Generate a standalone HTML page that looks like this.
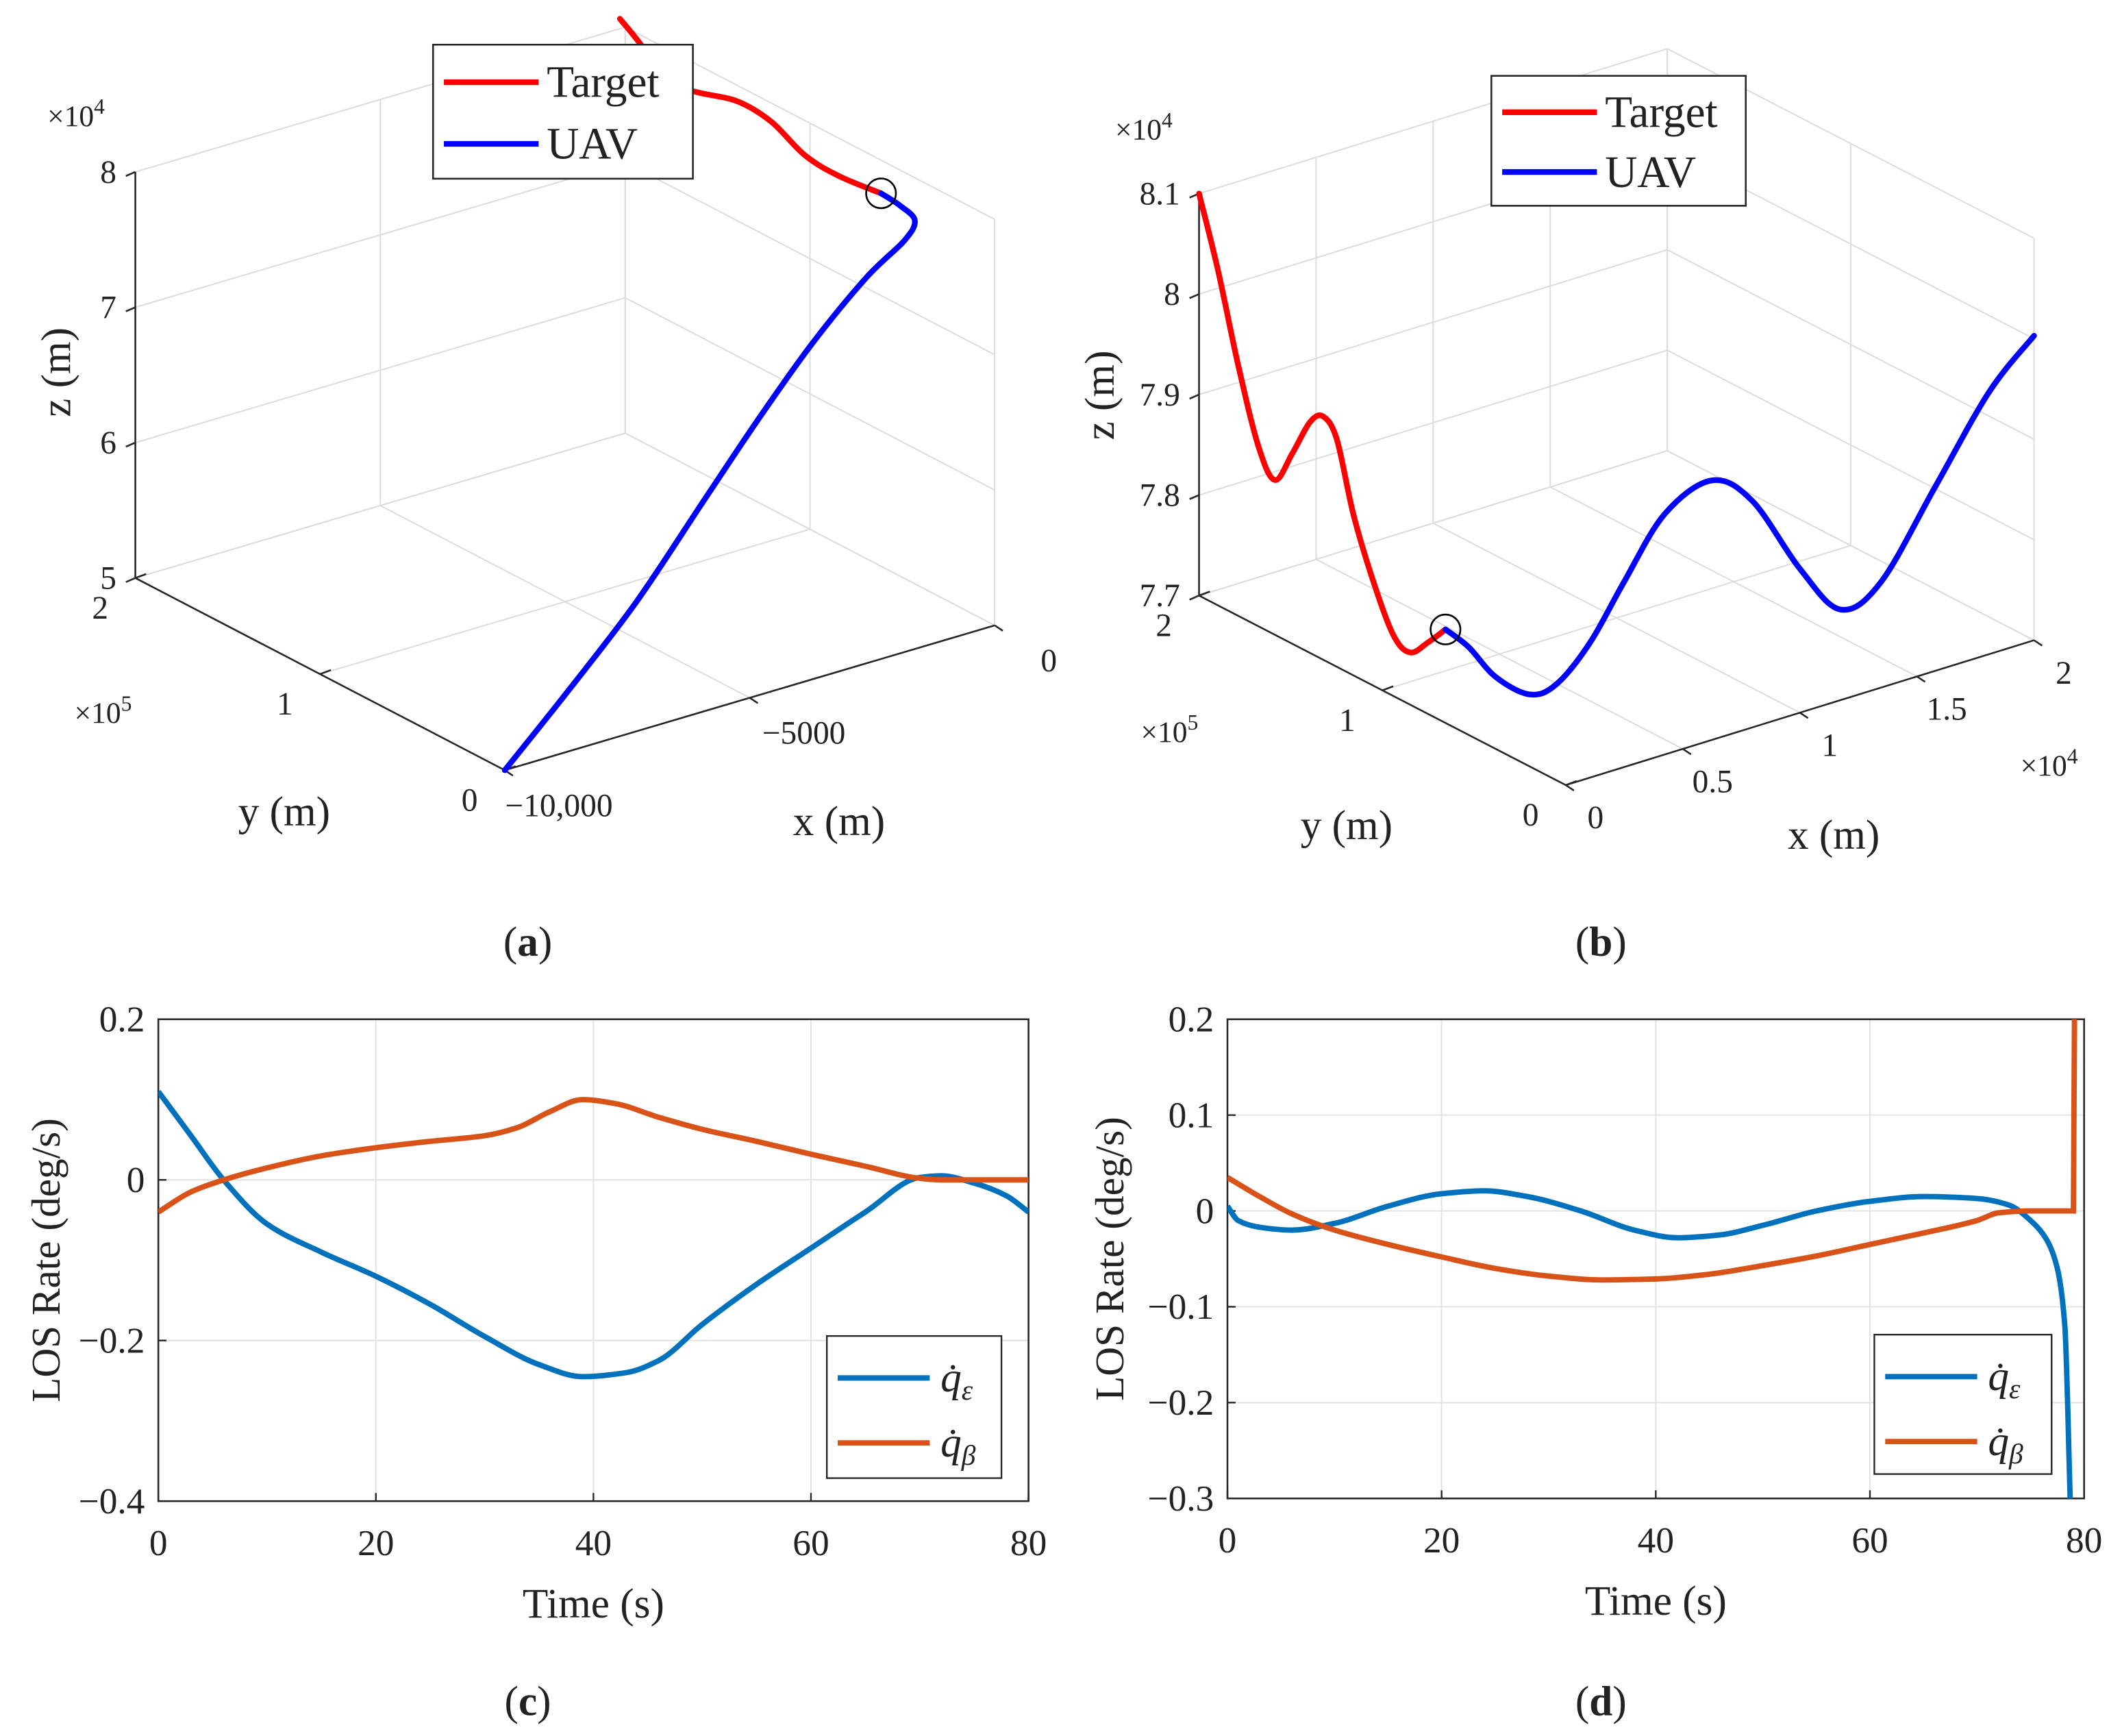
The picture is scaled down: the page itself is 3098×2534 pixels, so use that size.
<!DOCTYPE html>
<html><head><meta charset="utf-8"><style>
html,body{margin:0;padding:0;background:#fff;}
svg{display:block;font-family:"Liberation Serif",serif;}
text{font-family:"Liberation Serif",serif;fill:#222;}
</style></head>
<body>
<svg id="fig" xmlns="http://www.w3.org/2000/svg" width="3098" height="2534" viewBox="0 0 1568 1282.5" font-family="Liberation Serif, serif">
<g id="pa"></g>
<g id="pb"></g>
<g id="pc"></g>
<g id="pd"></g>
<text x="390" y="706" font-size="31" text-anchor="middle">(<tspan font-weight="bold">a</tspan>)</text>
<text x="1183" y="706" font-size="31" text-anchor="middle">(<tspan font-weight="bold">b</tspan>)</text>
<text x="390" y="1267" font-size="31" text-anchor="middle">(<tspan font-weight="bold">c</tspan>)</text>
<text x="1183" y="1267" font-size="31" text-anchor="middle">(<tspan font-weight="bold">d</tspan>)</text>
</svg>
<script>
// ---------- Panel (a) data ----------
const aUavX = [-10000,-8700,-7320,-5940,-4830,-3730,-2620,-1850,-1630,-1930,-2320];
const aUavY = [0,0,0,0,0,0,0,0,0,0,0];
const aUavZ = [50000,54500,59540,65560,70370,74790,78500,80380,81650,83070,84400];
const aTgtX = [-2320,-3180,-3870,-4560,-5250,-6080,-6770,-7180,-7650];
const aTgtY = [0,0,0,0,0,0,0,0,0];
const aTgtZ = [84400,86600,88860,92090,94330,95900,97450,100370,103000];
const aXTicks = [-10000,-5000,0];
const aXTickLabels = ["\u221210,000","\u22125000","0"];
const aYTicks = [0,100000,200000];
const aYTickLabels = ["0","1","2"];
const aZTicks = [50000,60000,70000,80000];
const aZTickLabels = ["5","6","7","8"];
// ---------- Panel (b) data ----------
const bTgtX = [0,0,0,0,0,0,0,0,0,0,0,0,0,0,0];
const bTgtY = [200000,189600,178600,167600,158600,149000,139400,132200,124800,115800,104800,93800,84800,75200,65600];
const bTgtZ = [81000,80330,79490,78790,78540,78900,79300,79420,79260,78600,78030,77600,77520,77710,77930];
const bUavX = [0,700,1540,2680,3520,4640,5780,7200,8900,10320,11880,13300,14560,16560,18400,20000];
const bUavY = [65600,62000,58000,54000,50000,46000,42000,38000,34000,30000,24000,20000,14000,10000,4000,0];
const bUavZ = [77930,77740,77420,77200,77280,77650,78210,78820,79070,78800,78070,77600,77840,78680,79550,80030];
const bXTicks = [0,5000,10000,15000,20000];
const bXTickLabels = ["0","0.5","1","1.5","2"];
const bYTicks = [0,100000,200000];
const bYTickLabels = ["0","1","2"];
const bZTicks = [77000,78000,79000,80000,81000];
const bZTickLabels = ["7.7","7.8","7.9","8","8.1"];
// ---------- Panel (c) data ----------
const cT = [0,3,6,10,15,20,25,30,35,39,43,46,50,55,60,65,70,72,75,78,80];
const cQe = [0.11,0.055,0,-0.055,-0.09,-0.12,-0.155,-0.195,-0.23,-0.245,-0.24,-0.225,-0.18,-0.13,-0.085,-0.04,0.003,0.005,-0.004,-0.02,-0.04];
const cTb = [0,3,6,10,15,20,25,30,33,36,39,42,46,50,55,60,65,70,72,76,80];
const cQb = [-0.04,-0.015,0,0.015,0.03,0.04,0.048,0.055,0.065,0.085,0.1,0.095,0.078,0.063,0.048,0.032,0.017,0.002,0,0,0];
const cXTicks = [0,20,40,60,80];
const cYTicks = [-0.4,-0.2,0,0.2];
const cYTickLabels = ["\u22120.4","\u22120.2","0","0.2"];
// ---------- Panel (d) data ----------
const dT = [0,1,3,6,10,15,20,24,28,33,38,42,46,50,55,60,65,70,73,75,76.5,77.5,78.2,78.7];
const dQe = [0.005,-0.01,-0.017,-0.02,-0.013,0.005,0.018,0.021,0.015,0,-0.02,-0.028,-0.025,-0.015,0,0.01,0.015,0.013,0.006,-0.01,-0.03,-0.06,-0.12,-0.3];
const dTb = [0,3,6,10,15,20,25,30,35,40,45,50,55,60,65,70,72,75,79,79.05,79.1];
const dQb = [0.035,0.015,-0.003,-0.02,-0.035,-0.048,-0.06,-0.068,-0.072,-0.071,-0.066,-0.057,-0.047,-0.035,-0.023,-0.01,-0.002,0,0,0.1,0.2];
const dXTicks = [0,20,40,60,80];
const dYTicks = [-0.3,-0.2,-0.1,0,0.1,0.2];
const dYTickLabels = ["\u22120.3","\u22120.2","\u22120.1","0","0.1","0.2"];

const NS = "http://www.w3.org/2000/svg";
function mk(parent, tag, attrs, txt){
  const e = document.createElementNS(NS, tag);
  for (const k in attrs) e.setAttribute(k, attrs[k]);
  if (tag === "text") e.setAttribute("font-family", "Liberation Serif, serif");
  if (txt !== undefined) e.textContent = txt;
  parent.appendChild(e);
  return e;
}
function smooth(pts){
  let d = "M" + pts[0][0].toFixed(2) + "," + pts[0][1].toFixed(2);
  for (let i = 0; i < pts.length - 1; i++){
    const p0 = pts[Math.max(0,i-1)], p1 = pts[i], p2 = pts[i+1], p3 = pts[Math.min(pts.length-1,i+2)];
    const c1x = p1[0] + (p2[0]-p0[0])/6, c1y = p1[1] + (p2[1]-p0[1])/6;
    const c2x = p2[0] - (p3[0]-p1[0])/6, c2y = p2[1] - (p3[1]-p1[1])/6;
    d += " C" + c1x.toFixed(2)+","+c1y.toFixed(2)+" "+c2x.toFixed(2)+","+c2y.toFixed(2)+" "+p2[0].toFixed(2)+","+p2[1].toFixed(2);
  }
  return d;
}
// monotone cubic in x (Fritsch-Carlson), no overshoot
function monotone(pts){
  const n = pts.length, dx = [], m = [], s = [];
  for (let i = 0; i < n-1; i++){ dx[i] = pts[i+1][0]-pts[i][0]; s[i] = (pts[i+1][1]-pts[i][1])/dx[i]; }
  m[0] = s[0]; m[n-1] = s[n-2];
  for (let i = 1; i < n-1; i++){
    if (s[i-1]*s[i] <= 0) m[i] = 0;
    else { const w1 = 2*dx[i]+dx[i-1], w2 = dx[i]+2*dx[i-1]; m[i] = (w1+w2)/(w1/s[i-1]+w2/s[i]); }
  }
  let d = "M" + pts[0][0].toFixed(2) + "," + pts[0][1].toFixed(2);
  for (let i = 0; i < n-1; i++){
    const h = dx[i]/3;
    d += " C" + (pts[i][0]+h).toFixed(2)+","+(pts[i][1]+m[i]*h).toFixed(2)+" "+(pts[i+1][0]-h).toFixed(2)+","+(pts[i+1][1]-m[i+1]*h).toFixed(2)+" "+pts[i+1][0].toFixed(2)+","+pts[i+1][1].toFixed(2);
  }
  return d;
}

// ---------- 3D panels ----------
function draw3D(g, cfg){
  const P = (x,y,z) => {
    const a = (x-cfg.x0)/(cfg.x1-cfg.x0), b = (y-cfg.y0)/(cfg.y1-cfg.y0), c = (z-cfg.z0)/(cfg.z1-cfg.z0);
    return [cfg.O[0] + a*cfg.ex[0] + b*cfg.ey[0] + c*cfg.ez[0], cfg.O[1] + a*cfg.ex[1] + b*cfg.ey[1] + c*cfg.ez[1]];
  };
  const line = (p, q, st, w, name) => {
    const l = mk(g, "line", {x1:p[0],y1:p[1],x2:q[0],y2:q[1],stroke:st,"stroke-width":w});
    
    
  };
  const gc = "#dcdcdc";
  cfg.xt.forEach(x => line(P(x,cfg.y0,cfg.z0), P(x,cfg.y1,cfg.z0), gc, 1, 'floor-grid-x'));
  cfg.yt.forEach(y => line(P(cfg.x0,y,cfg.z0), P(cfg.x1,y,cfg.z0), gc, 1, 'floor-grid-y'));
  cfg.zt.forEach(z => line(P(cfg.x0,cfg.y1,z), P(cfg.x1,cfg.y1,z), gc, 1, 'wall-grid-z'));
  cfg.xt.forEach(x => line(P(x,cfg.y1,cfg.z0), P(x,cfg.y1,cfg.z1), gc, 1, 'wall-grid-x'));
  cfg.zt.forEach(z => line(P(cfg.x1,cfg.y0,z), P(cfg.x1,cfg.y1,z), gc, 1, 'wall-grid-z'));
  cfg.yt.forEach(y => line(P(cfg.x1,y,cfg.z0), P(cfg.x1,y,cfg.z1), gc, 1, 'wall-grid-y'));
  const ac = "#262626";
  line(P(cfg.x0,cfg.y1,cfg.z0), P(cfg.x0,cfg.y1,cfg.z1), ac, 1.3, 'z-axis');
  line(P(cfg.x0,cfg.y0,cfg.z0), P(cfg.x0,cfg.y1,cfg.z0), ac, 1.3, 'y-axis');
  line(P(cfg.x0,cfg.y0,cfg.z0), P(cfg.x1,cfg.y0,cfg.z0), ac, 1.3, 'x-axis');
  cfg.zt.forEach((z,i) => {
    const p = P(cfg.x0,cfg.y1,z);
    line(p, [p[0]-7,p[1]+3], ac, 1.3, 'z-tick');
    const t = mk(g,"text",{x:p[0]-14,y:p[1]+8,"font-size":24,"text-anchor":"end"}, cfg.ztl[i]);
     
  });
  cfg.yt.forEach((y,i) => {
    const p = P(cfg.x0,y,cfg.z0);
    line(p, [p[0]+8,p[1]-3], ac, 1.3, 'y-tick');
    const t = mk(g,"text",{x:p[0]+cfg.yLabOff[0],y:p[1]+cfg.yLabOff[1],"font-size":24,"text-anchor":"middle"}, cfg.ytl[i]);
     
  });
  cfg.xt.forEach((x,i) => {
    const p = P(x,cfg.y0,cfg.z0);
    line(p, [p[0]+6,p[1]+4], ac, 1.3, 'x-tick');
    const t = mk(g,"text",{x:p[0]+cfg.xLabOff[0],y:p[1]+cfg.xLabOff[1],"font-size":24,"text-anchor":"middle"}, cfg.xtl[i]);
     
  });
  const tp = cfg.tx.map((x,i) => P(x, cfg.ty[i], cfg.tz[i]));
  const up = cfg.ux.map((x,i) => P(x, cfg.uy[i], cfg.uz[i]));
  const pt = mk(g,"path",{d:smooth(tp),fill:"none",stroke:"#ff0000","stroke-width":4.2,"stroke-linecap":"round"});
   
  const pu = mk(g,"path",{d:smooth(up),fill:"none",stroke:"#0000ff","stroke-width":4.2,"stroke-linecap":"round"});
   
  const c0 = cfg.circleAtEnd ? up[up.length-1] : up[0];
  const ci = mk(g,"circle",{cx:c0[0],cy:c0[1],r:11,fill:"none",stroke:"#000","stroke-width":1.3});
   
  const L = cfg.leg;
  const lg = mk(g,"g",{});
   
  mk(lg,"rect",{x:L[0],y:L[1],width:L[2],height:L[3],fill:"#fff",stroke:"#262626","stroke-width":1.3});
  const r1 = L[1]+L[3]*0.28, r2 = L[1]+L[3]*0.74;
  const l1 = mk(lg,"line",{x1:L[0]+8,y1:r1,x2:L[0]+78,y2:r1,stroke:"#ff0000","stroke-width":4.2});
   
  mk(lg,"text",{x:L[0]+84,y:r1+11,"font-size":33}, "Target");
  const l2 = mk(lg,"line",{x1:L[0]+8,y1:r2,x2:L[0]+78,y2:r2,stroke:"#0000ff","stroke-width":4.2});
   
  mk(lg,"text",{x:L[0]+84,y:r2+11,"font-size":33}, "UAV");
}

draw3D(document.getElementById("pa"), {
  x0:-10000,x1:0,y0:0,y1:200000,z0:50000,z1:80000,
  O:[373,569], ex:[362,-107], ey:[-273,-142], ez:[0,-300],
  xt:aXTicks, xtl:aXTickLabels, yt:aYTicks, ytl:aYTickLabels, zt:aZTicks, ztl:aZTickLabels,
  yLabOff:[-26,30], xLabOff:[40,34],
  tx:aTgtX, ty:aTgtY, tz:aTgtZ, ux:aUavX, uy:aUavY, uz:aUavZ,
  leg:[320,33,192,99], circleAtEnd:true
});
draw3D(document.getElementById("pb"), {
  x0:0,x1:20000,y0:0,y1:200000,z0:77000,z1:81000,
  O:[1157,580], ex:[346,-107], ey:[-271,-140], ez:[0,-297],
  xt:bXTicks, xtl:bXTickLabels, yt:bYTicks, ytl:bYTickLabels, zt:bZTicks, ztl:bZTickLabels,
  yLabOff:[-26,30], xLabOff:[22,32],
  tx:bTgtX, ty:bTgtY, tz:bTgtZ, ux:bUavX, uy:bUavY, uz:bUavZ,
  leg:[1102,56,188,96], circleAtEnd:false
});
(function(){
  const pa = document.getElementById("pa"), pb = document.getElementById("pb");
  const add = (g, a, txt, name) => { const t = mk(g,"text",a,txt);   return t; };
  let t = add(pa,{x:35,y:93,"font-size":22},"\u00d710","z-exponent"); mk(t,"tspan",{dy:-9,"font-size":16},"4");
  t = add(pa,{x:55,y:534,"font-size":22},"\u00d710","y-exponent"); mk(t,"tspan",{dy:-9,"font-size":16},"5");
  add(pa,{x:52,y:275,"font-size":31,"text-anchor":"middle",transform:"rotate(-90 52 275)"},"z (m)","z-axis-title");
  add(pa,{x:210,y:610,"font-size":31,"text-anchor":"middle"},"y (m)","y-axis-title");
  add(pa,{x:620,y:617,"font-size":31,"text-anchor":"middle"},"x (m)","x-axis-title");
  t = add(pb,{x:824,y:103,"font-size":22},"\u00d710","z-exponent"); mk(t,"tspan",{dy:-9,"font-size":16},"4");
  t = add(pb,{x:843,y:548,"font-size":22},"\u00d710","y-exponent"); mk(t,"tspan",{dy:-9,"font-size":16},"5");
  t = add(pb,{x:1493,y:573,"font-size":22},"\u00d710","x-exponent"); mk(t,"tspan",{dy:-9,"font-size":16},"4");
  add(pb,{x:823,y:292,"font-size":31,"text-anchor":"middle",transform:"rotate(-90 823 292)"},"z (m)","z-axis-title");
  add(pb,{x:995,y:620,"font-size":31,"text-anchor":"middle"},"y (m)","y-axis-title");
  add(pb,{x:1355,y:627,"font-size":31,"text-anchor":"middle"},"x (m)","x-axis-title");
})();

// ---------- 2D panels ----------
function draw2D(g, cfg){
  const X = v => cfg.L + (v-cfg.xmin)/(cfg.xmax-cfg.xmin)*(cfg.R-cfg.L);
  const Y = v => cfg.B - (v-cfg.ymin)/(cfg.ymax-cfg.ymin)*(cfg.B-cfg.T);
  const bg = mk(g,"rect",{x:cfg.L,y:cfg.T,width:cfg.R-cfg.L,height:cfg.B-cfg.T,fill:"#fff"});
   
  cfg.xt.forEach(v => {
    const l = mk(g,"line",{x1:X(v),y1:cfg.T,x2:X(v),y2:cfg.B,stroke:"#e3e3e3","stroke-width":1});
     
    const k = mk(g,"line",{x1:X(v),y1:cfg.B,x2:X(v),y2:cfg.B-6,stroke:"#262626","stroke-width":1.2});
     
    const t = mk(g,"text",{x:X(v),y:cfg.B+40,"font-size":27,"text-anchor":"middle"}, String(v));
     
  });
  cfg.yt.forEach((v,i) => {
    const l = mk(g,"line",{x1:cfg.L,y1:Y(v),x2:cfg.R,y2:Y(v),stroke:"#e3e3e3","stroke-width":1});
     
    const k = mk(g,"line",{x1:cfg.L,y1:Y(v),x2:cfg.L+6,y2:Y(v),stroke:"#262626","stroke-width":1.2});
     
    const t = mk(g,"text",{x:cfg.L-10,y:Y(v)+9,"font-size":27,"text-anchor":"end"}, cfg.ytl[i]);
     
  });
  const fr = mk(g,"rect",{x:cfg.L,y:cfg.T,width:cfg.R-cfg.L,height:cfg.B-cfg.T,fill:"none",stroke:"#262626","stroke-width":1.3});
   
  const clipId = cfg.id + "clip";
  const cp = mk(g,"clipPath",{id:clipId});
  mk(cp,"rect",{x:cfg.L,y:cfg.T-2,width:cfg.R-cfg.L,height:cfg.B-cfg.T+4});
  const pe = mk(g,"path",{d:monotone(cfg.t1.map((t,i)=>[X(t),Y(cfg.s1[i])])),fill:"none",stroke:"#0072bd","stroke-width":4,"clip-path":"url(#"+clipId+")"});
   
  const pb = mk(g,"path",{d:monotone(cfg.t2.map((t,i)=>[X(t),Y(cfg.s2[i])])),fill:"none",stroke:"#d95319","stroke-width":4,"clip-path":"url(#"+clipId+")"});
   
  const yt = mk(g,"text",{x:cfg.ytx,y:(cfg.T+cfg.B)/2,"font-size":30,"text-anchor":"middle",transform:"rotate(-90 "+cfg.ytx+" "+(cfg.T+cfg.B)/2+")"},"LOS Rate (deg/s)");
   
  const xt = mk(g,"text",{x:(cfg.L+cfg.R)/2,y:cfg.B+86,"font-size":31,"text-anchor":"middle"},"Time (s)");
   
  const Lg = cfg.leg;
  const lg = mk(g,"g",{});
   
  mk(lg,"rect",{x:Lg[0],y:Lg[1],width:Lg[2],height:Lg[3],fill:"#fff",stroke:"#262626","stroke-width":1.2});
  const r1 = Lg[1]+31, r2 = Lg[1]+79;
  const e1 = mk(lg,"line",{x1:Lg[0]+8,y1:r1,x2:Lg[0]+76,y2:r1,stroke:"#0072bd","stroke-width":4});
   
  let t = mk(lg,"text",{x:Lg[0]+84,y:r1+10,"font-size":31,"font-style":"italic"},"q\u0307");
  mk(t,"tspan",{dy:6,"font-size":21},"\u03b5");
  const e2 = mk(lg,"line",{x1:Lg[0]+8,y1:r2,x2:Lg[0]+76,y2:r2,stroke:"#d95319","stroke-width":4});
   
  t = mk(lg,"text",{x:Lg[0]+84,y:r2+10,"font-size":31,"font-style":"italic"},"q\u0307");
  mk(t,"tspan",{dy:6,"font-size":21},"\u03b2");
}
draw2D(document.getElementById("pc"), {
  id:"c", L:117, R:760, T:753, B:1109, xmin:0, xmax:80, ymin:-0.4, ymax:0.2,
  xt:cXTicks, yt:cYTicks, ytl:cYTickLabels, t1:cT, s1:cQe, t2:cTb, s2:cQb,
  ytx:44, leg:[611,987,129,105]
});
draw2D(document.getElementById("pd"), {
  id:"d", L:907, R:1540, T:753, B:1107, xmin:0, xmax:80, ymin:-0.3, ymax:0.2,
  xt:dXTicks, yt:dYTicks, ytl:dYTickLabels, t1:dT, s1:dQe, t2:dTb, s2:dQb,
  ytx:830, leg:[1385,986,131,103]
});
</script>
</body></html>
